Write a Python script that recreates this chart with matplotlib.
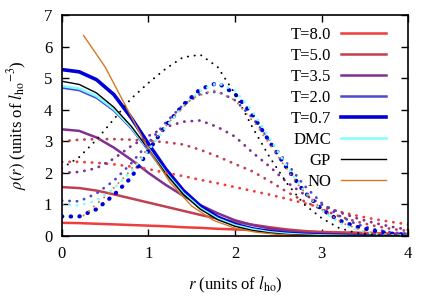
import matplotlib
matplotlib.use("Agg")
import matplotlib.pyplot as plt

# radial grid used for most of the read-off curves
r = [0.0, 0.2, 0.4, 0.6, 0.8, 1.0, 1.2, 1.4, 1.6, 1.8, 2.0,
     2.2, 2.4, 2.6, 2.8, 3.0, 3.2, 3.4, 3.6, 3.8, 4.0]
# coarser grid of the NO data
r_no = [0.25, 0.5, 0.75, 1.0, 1.25, 1.5, 1.75, 2.0,
        2.25, 2.5, 2.75, 3.0, 3.25, 3.5, 3.75, 4.0]

# solid curves
t80_a = [0.42, 0.41, 0.39, 0.37, 0.35, 0.33, 0.31, 0.28, 0.26, 0.23, 0.21,
         0.19, 0.18, 0.16, 0.14, 0.13, 0.12, 0.11, 0.09, 0.08, 0.07]
t50_a = [1.55, 1.52, 1.44, 1.32, 1.19, 1.06, 0.93, 0.80, 0.67, 0.55, 0.45,
         0.36, 0.28, 0.21, 0.16, 0.12, 0.09, 0.07, 0.05, 0.04, 0.03]
t35_a = [3.38, 3.33, 3.12, 2.80, 2.42, 2.00, 1.62, 1.28, 0.98, 0.72, 0.50,
         0.35, 0.24, 0.16, 0.10, 0.07, 0.05, 0.03, 0.02, 0.02, 0.01]
t20_a = [4.70, 4.62, 4.38, 3.98, 3.42, 2.72, 1.98, 1.35, 0.88, 0.56, 0.35,
         0.22, 0.14, 0.09, 0.05, 0.03, 0.02, 0.01, 0.01, 0.00, 0.00]
t07_a = [5.27, 5.20, 4.95, 4.48, 3.75, 2.92, 2.12, 1.45, 0.95, 0.60, 0.37,
         0.23, 0.14, 0.08, 0.05, 0.03, 0.02, 0.01, 0.00, 0.00, 0.00]
dmc_a = [4.75, 4.67, 4.43, 4.02, 3.45, 2.75, 2.00, 1.36, 0.88, 0.55, 0.34,
         0.21, 0.12, 0.07, 0.04, 0.02, 0.01, 0.00, 0.00, 0.00, 0.00]
gp_a = [4.90, 4.80, 4.53, 4.08, 3.48, 2.75, 1.98, 1.33, 0.85, 0.52, 0.31,
        0.18, 0.10, 0.05, 0.03, 0.01, 0.00, 0.00, 0.00, 0.00, 0.00]
no_a = [6.35, 5.35, 4.05, 2.75, 1.70, 0.95, 0.50, 0.25,
        0.12, 0.05, 0.02, 0.01, 0.00, 0.00, 0.00, 0.00]

# dotted curves
t80_b = [2.35, 2.35, 2.32, 2.27, 2.20, 2.12, 2.00, 1.90, 1.78, 1.67, 1.55,
         1.43, 1.31, 1.18, 1.04, 0.90, 0.78, 0.65, 0.54, 0.45, 0.37]
t50_b = [3.00, 3.05, 3.07, 3.07, 3.05, 3.02, 2.97, 2.90, 2.73, 2.52, 2.28,
         2.05, 1.74, 1.40, 1.10, 0.85, 0.63, 0.46, 0.33, 0.23, 0.16]
t35_b = [2.00, 2.03, 2.15, 2.45, 2.85, 3.17, 3.45, 3.62, 3.66, 3.45, 3.15,
         2.65, 2.20, 1.70, 1.32, 1.00, 0.76, 0.57, 0.42, 0.30, 0.20]
t20_b = [1.12, 1.10, 1.35, 1.75, 2.30, 2.95, 3.60, 4.15, 4.50, 4.58, 4.30,
         3.75, 3.05, 2.30, 1.60, 1.05, 0.65, 0.38, 0.22, 0.12, 0.07]
t07_b = [0.62, 0.62, 0.85, 1.30, 1.85, 2.70, 3.50, 4.15, 4.65, 4.85, 4.50,
         3.85, 2.98, 2.15, 1.40, 0.85, 0.50, 0.30, 0.17, 0.08, 0.04]
dmc_b = [1.00, 0.97, 1.12, 1.50, 2.05, 2.72, 3.45, 4.10, 4.60, 4.85, 4.60,
         3.95, 3.10, 2.20, 1.42, 0.82, 0.42, 0.20, 0.08, 0.03, 0.01]
gp_b = [2.15, 2.50, 3.05, 3.70, 4.35, 4.85, 5.30, 5.66, 5.74, 5.35, 4.50,
        3.45, 2.50, 1.67, 1.00, 0.57, 0.26, 0.10, 0.04, 0.01, 0.00]
no_b = [0.65, 1.25, 1.95, 2.80, 3.65, 4.35, 4.62, 4.30,
        3.50, 2.50, 1.55, 0.85, 0.40, 0.15, 0.05, 0.01]

labels = ["T=8.0", "T=5.0", "T=3.5", "T=2.0", "T=0.7", "DMC", "GP", "NO"]
colors = ["#f03c3c", "#c0404f", "#803090", "#4a4ad0", "#0000d8",
          "#80ffff", "#000000", "#d87820"]
widths = [1.8, 1.8, 1.8, 1.8, 2.6, 1.8, 1.0, 1.0]

plt.rcParams["font.family"] = ["Liberation Serif", "DejaVu Serif"]
plt.rcParams["mathtext.fontset"] = "stix"
FONTSIZE = 12

fig = plt.figure(figsize=(4.36, 3.05), dpi=100)
ax = fig.add_axes([0.142, 0.226, 0.794, 0.725])

solid = [t80_a, t50_a, t35_a, t20_a, t07_a, dmc_a, gp_a, no_a]
dotted = [t80_b, t50_b, t35_b, t20_b, t07_b, dmc_b, gp_b, no_b]

for i in range(len(labels)):
    x = r_no if labels[i] == "NO" else r
    ax.plot(x, solid[i], color=colors[i], linewidth=widths[i],
            label=labels[i])

for i in range(len(labels)):
    x = r_no if labels[i] == "NO" else r
    if labels[i] == "T=0.7":
        lw, dash = 3.0, (0, (0.1, 2.0))
    elif labels[i] in ("GP", "NO"):
        lw, dash = 1.4, (0, (0.1, 3.4))
    else:
        lw, dash = 2.0, (0, (0.1, 2.6))
    ax.plot(x, dotted[i], color=colors[i], linewidth=lw,
            linestyle=dash, dash_capstyle="round")

ax.set_xlim(0, 4)
ax.set_ylim(0, 7)
ax.set_xticks([0, 1, 2, 3, 4])
ax.set_yticks([0, 1, 2, 3, 4, 5, 6, 7])
ax.tick_params(direction="in", length=5, width=1, top=True, right=True,
               labelsize=FONTSIZE, pad=7)
for sp in ax.spines.values():
    sp.set_linewidth(1.2)

ax.set_xlabel(r"$r$ (units of $l_{\rm ho}$)", fontsize=FONTSIZE, labelpad=9)
ax.set_ylabel(r"$\rho(r)$ (units of $l_{\rm ho}{}^{-3}$)", fontsize=FONTSIZE,
              labelpad=11)

ax.legend(loc="upper right", frameon=False, markerfirst=False,
          fontsize=FONTSIZE, handlelength=2.7, handletextpad=0.6,
          labelspacing=0.3, borderaxespad=0.3, bbox_to_anchor=(0.97, 1.0))

fig.savefig("out.png", dpi=100)
